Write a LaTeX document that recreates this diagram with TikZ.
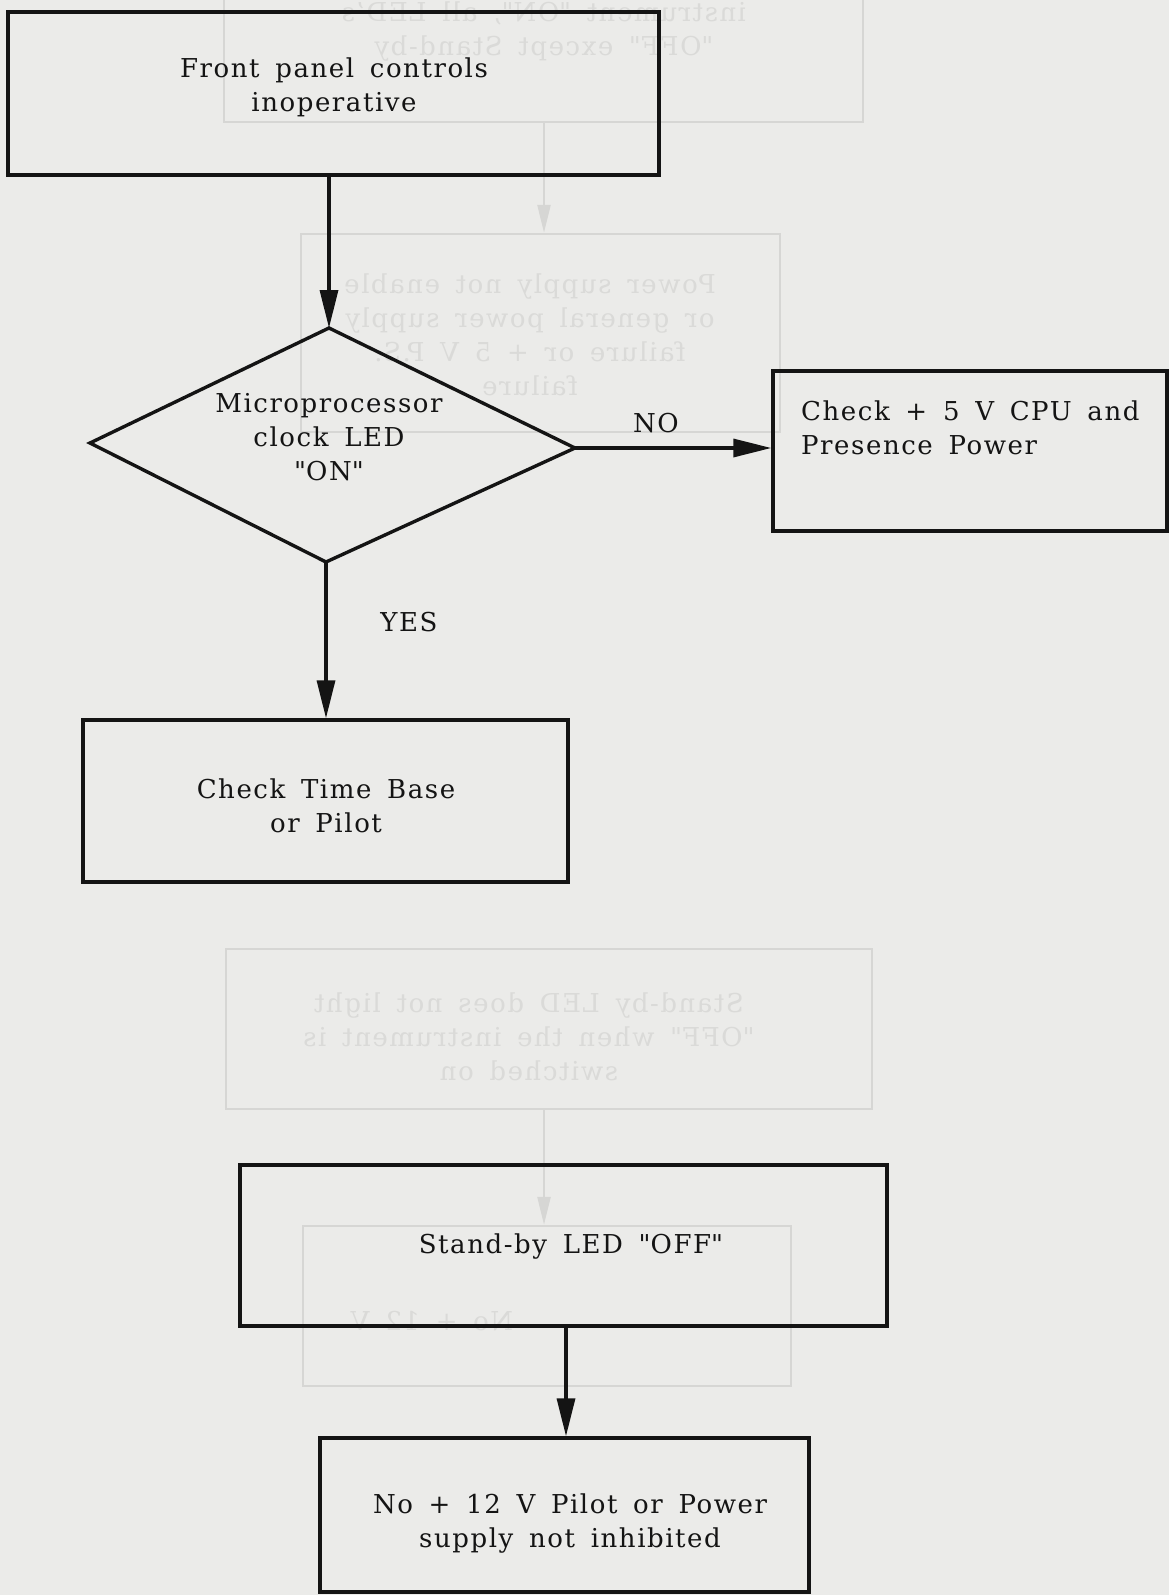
\documentclass[tikz,border=0pt]{standalone}
\usepackage{fontspec}
\setmainfont{DejaVu Serif}[LetterSpace=6, WordSpace=1.6]
\usetikzlibrary{arrows.meta}
\newcommand{\dq}{\textquotedbl}
\definecolor{paper}{RGB}{235,235,233}
\definecolor{ghost}{RGB}{214,214,212}
\definecolor{ghosttext}{RGB}{218,218,216}
\definecolor{ink}{RGB}{20,20,20}
\tikzset{
  box/.style={draw=ink, line width=3.4pt, rectangle, inner sep=0pt},
  ghostbox/.style={draw=ghost, line width=2.4pt, rectangle, inner sep=0pt},
  txt/.style={text=ink, font=\fontsize{26}{34}\selectfont, align=center, inner sep=0pt},
  ghosttxt/.style={text=ghosttext, font=\fontsize{26}{34}\selectfont, align=center, inner sep=0pt, xscale=-1},
  conn/.style={draw=ink, line width=3.4pt, -{Triangle[length=38pt,width=18pt]}},
  ghostconn/.style={draw=ghost, line width=2.4pt, -{Triangle[length=28pt,width=13pt]}}
}
\begin{document}
\begin{tikzpicture}[x=1pt,y=-1pt]
\fill[paper] (0,0) rectangle (1169,1595);
\useasboundingbox (0,0) rectangle (1169,1595);

% ghost (show-through) shapes
\node[ghostbox, minimum width=639pt, minimum height=127pt] (g1) at (543.5,58.5) {};
\node[ghosttxt] (g1t) at (544,32) {instrument \dq ON\dq, all LED's\\\dq OFF\dq\ except Stand-by};
\node[ghostbox, minimum width=479pt, minimum height=198pt] (g2) at (540.5,333) {};
\node[ghosttxt] (g2t) at (530,335) {Power supply not enable\\or general power supply\\failure or + 5 V P.S.\\failure};
\node[ghostbox, minimum width=646pt, minimum height=160pt] (g3) at (549,1029) {};
\node[ghosttxt] (g3t) at (529,1037) {Stand-by LED does not light\\\dq OFF\dq\ when the instrument is\\switched on};
\node[ghostbox, minimum width=488pt, minimum height=160pt] (g4) at (547,1306) {};
\node[ghosttxt] (g4t) at (432,1321) {No + 12 V};
\draw[ghostconn] (g1.south -| 544,0) -- (g2.north -| 544,0);
\draw[ghostconn] (g3.south -| 544,0) -- (g4.north -| 544,0);

% main boxes
\node[box, minimum width=651pt, minimum height=163pt] (b1) at (333.5,93.5) {};
\node[txt] (b1t) at (334,87) {Front panel controls\\inoperative};

\coordinate (dtop) at (329,328);
\coordinate (dleft) at (90,443);
\coordinate (dright) at (575,448);
\coordinate (dbot) at (326,562);
\draw[draw=ink, line width=3.4pt, line join=miter] (dtop) -- (dright) -- (dbot) -- (dleft) -- cycle;
\node[txt] (dt) at (329,437) {Microprocessor\\clock LED\\\dq ON\dq};

\node[box, minimum width=394pt, minimum height=160pt] (b2) at (970,451) {};
\node[txt, align=left, anchor=north west] (b2t) at (801,401) {Check + 5 V CPU and\\Presence Power};

\node[box, minimum width=485pt, minimum height=162pt] (b3) at (325.5,801) {};
\node[txt] (b3t) at (326,806) {Check Time Base\\or Pilot};

\node[box, minimum width=647pt, minimum height=161pt] (b4) at (563.5,1245.5) {};
\node[txt] (b4t) at (571,1246) {Stand-by LED \dq OFF\dq};

\node[box, minimum width=489pt, minimum height=154pt] (b5) at (564.5,1515) {};
\node[txt] (b5t) at (570,1523) {No + 12 V Pilot or Power\\supply not inhibited};

% labels
\node[txt] (no) at (656,423) {NO};
\node[txt] (yes) at (409,622) {YES};

% connectors
\draw[conn] (b1.south -| dtop) -- (dtop);
\draw[conn] (dright) -- (dright -| b2.west);
\draw[conn] (dbot) -- (dbot |- b3.north);
\draw[conn] (b4.south -| 566,0) -- (b5.north -| 566,0);
\end{tikzpicture}
\end{document}
